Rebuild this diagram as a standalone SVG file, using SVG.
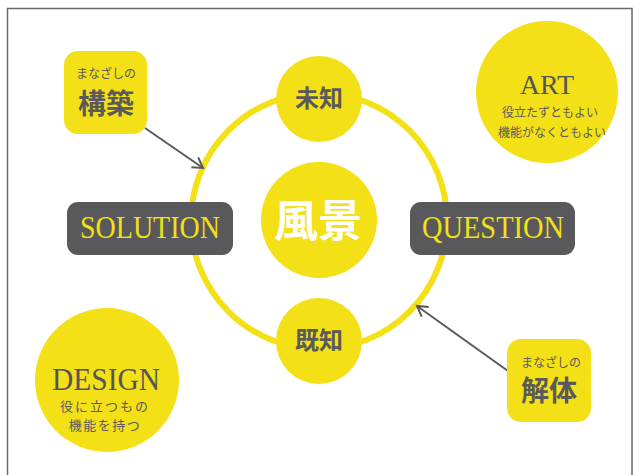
<svg xmlns="http://www.w3.org/2000/svg" width="634" height="475" viewBox="0 0 634 475">
<style>
.y{fill:#f3e017}
.bx{fill:#59585a}
.jp{font-family:"Noto Sans CJK JP","Noto Sans",sans-serif;fill:#5a5a5a;text-anchor:middle}
.jpb{font-family:"Noto Sans CJK JP","Noto Sans",sans-serif;font-weight:bold;fill:#5a5a5a;text-anchor:middle}
.lat{font-family:"Liberation Serif","Times New Roman",serif;text-anchor:middle}
.conn{stroke:#59585a;stroke-width:2;fill:none}
</style>
<defs>
<marker id="arr" markerUnits="userSpaceOnUse" markerWidth="16" markerHeight="16" refX="11" refY="7" orient="auto" viewBox="0 0 16 14">
<path d="M1,1 L11,7 L1,13" fill="none" stroke="#59585a" stroke-width="2"/>
</marker>
</defs>
<rect x="0" y="0" width="634" height="475" fill="#fff"/>
<rect x="7.5" y="8.5" width="624.5" height="480" fill="none" stroke="#6a6a6a" stroke-width="1.5"/>

<g id="ring">
<circle cx="319" cy="221" r="128" fill="none" stroke="#f3e017" stroke-width="6"/>
</g>

<g id="connectors">
<line class="conn" x1="145" y1="128" x2="203" y2="168" marker-end="url(#arr)"/>
<line class="conn" x1="508" y1="371" x2="417" y2="306" marker-end="url(#arr)"/>
</g>

<g id="michi">
<circle class="y" cx="319" cy="99" r="43"/>
<text class="jpb" x="319" y="107" font-size="24">未知</text>
</g>
<g id="fukei">
<circle class="y" cx="319" cy="220" r="58"/>
<text x="318" y="237" font-size="44" font-family="Noto Sans CJK JP,sans-serif" font-weight="bold" fill="#fff" text-anchor="middle">風景</text>
</g>
<g id="kichi">
<circle class="y" cx="319" cy="341" r="43"/>
<text class="jpb" x="319" y="349" font-size="24">既知</text>
</g>

<g id="solution">
<rect class="bx" x="67" y="202" width="166" height="53" rx="11"/>
<text class="lat" x="150" y="238" font-size="31" fill="#f3e017" textLength="140" lengthAdjust="spacingAndGlyphs">SOLUTION</text>
</g>
<g id="question">
<rect class="bx" x="410" y="202" width="165" height="53" rx="11"/>
<text class="lat" x="493" y="238" font-size="31" fill="#f3e017" textLength="142" lengthAdjust="spacingAndGlyphs">QUESTION</text>
</g>

<g id="kouchiku">
<rect class="y" x="64" y="51" width="83" height="83" rx="14"/>
<text class="jp" x="106" y="78" font-size="12">まなざしの</text>
<text class="jp" x="106" y="114" font-size="28" font-weight="bold">構築</text>
</g>
<g id="kaitai">
<rect class="y" x="507" y="339" width="84" height="83" rx="14"/>
<text class="jp" x="551" y="367" font-size="12">まなざしの</text>
<text class="jp" x="549" y="401" font-size="28" font-weight="bold">解体</text>
</g>

<g id="art">
<circle class="y" cx="547" cy="92" r="71"/>
<text class="lat" x="547" y="94" font-size="28" fill="#555">ART</text>
<text class="jp" x="550" y="117" font-size="12">役立たずともよい</text>
<text class="jp" x="552" y="137" font-size="12">機能がなくともよい</text>
</g>
<g id="design">
<circle class="y" cx="107" cy="380" r="72"/>
<text class="lat" x="106" y="390" font-size="31" fill="#555" textLength="108" lengthAdjust="spacingAndGlyphs">DESIGN</text>
<text class="jp" x="105" y="411" font-size="13" letter-spacing="2">役に立つもの</text>
<text class="jp" x="105" y="430" font-size="13" letter-spacing="1.5">機能を持つ</text>
</g>
</svg>
